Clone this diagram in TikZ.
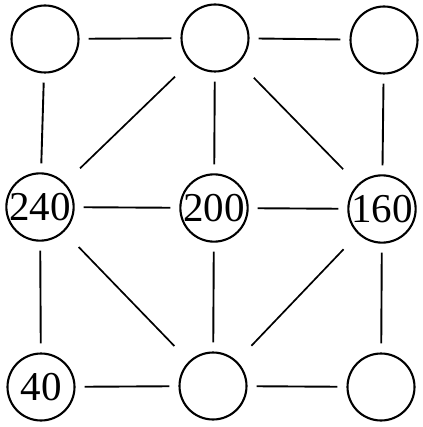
\documentclass[tikz,border=0pt]{standalone}
\usepackage{fontspec}
\setmainfont{Liberation Serif}
\begin{document}
\begin{tikzpicture}[x=1pt,y=-1pt,
  cnode/.style={draw,circle,line width=2.1pt,minimum size=67pt,inner sep=0pt,font=\fontsize{41}{41}\selectfont},
  ortho/.style={line width=1.9pt,shorten <=9pt,shorten >=9pt},
  diag/.style={line width=1.7pt,shorten <=21pt,shorten >=21pt}]
\useasboundingbox (0,0) rectangle (422,427);
\node[cnode] (TL) at (45,39) {};
\node[cnode] (TM) at (215,38) {};
\node[cnode] (TR) at (384,40) {};
\node[cnode] (ML) at (40,207) {240};
\node[cnode] (MM) at (214,208) {200};
\node[cnode] (MR) at (382,209) {160};
\node[cnode] (BL) at (41,387) {40};
\node[cnode] (BM) at (213,386) {};
\node[cnode] (BR) at (381,387) {};
\draw[ortho] (TL) -- (TM);
\draw[ortho] (TM) -- (TR);
\draw[ortho] (ML) -- (MM);
\draw[ortho] (MM) -- (MR);
\draw[ortho] (BL) -- (BM);
\draw[ortho] (BM) -- (BR);
\draw[ortho] (TL) -- (ML);
\draw[ortho] (ML) -- (BL);
\draw[ortho] (TM) -- (MM);
\draw[ortho] (MM) -- (BM);
\draw[ortho] (TR) -- (MR);
\draw[ortho] (MR) -- (BR);
\draw[diag] (TM) -- (ML);
\draw[diag] (TM) -- (MR);
\draw[diag] (ML) -- (BM);
\draw[diag] (MR) -- (BM);
\end{tikzpicture}
\end{document}
